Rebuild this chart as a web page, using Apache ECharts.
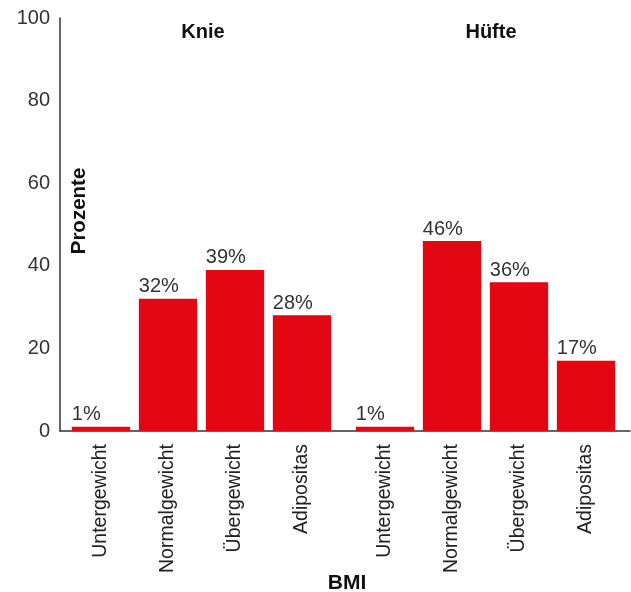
<!DOCTYPE html>
<html>
<head>
<meta charset="utf-8">
<script src="https://cdn.jsdelivr.net/npm/echarts@6/dist/echarts.min.js"></script>
<style>
  html, body { margin: 0; padding: 0; background: #fff; }
  #chart { width: 631px; height: 592px; }
</style>
</head>
<body>
<div id="chart"></div>
<script>
// BMI categories, shared by both joint groups
const categories = ['Untergewicht', 'Normalgewicht', 'Übergewicht', 'Adipositas'];
// Percent of patients per BMI class
const knieValues = [1, 32, 39, 28];
const hueftValues = [1, 46, 36, 17];
const groupTitles = ['Knie', 'Hüfte'];
const yTicks = [0, 20, 40, 60, 80, 100];

const FONT = '"Liberation Sans", Arial, sans-serif';
const RED = '#e30613';
const INK = '#333';

const plotTop = 18;
const plotHeight = 413;
const chartLeft = 60;
const groupLefts = [67.5, 351.5];
const groupWidth = 268;
const titleCenters = [198, 486];

const chart = echarts.init(document.getElementById('chart'), null, { renderer: 'canvas' });

const grids = [
  // frame grid carrying the visible value axis and baseline
  { left: chartLeft, top: plotTop, width: 631 - chartLeft - 1, height: plotHeight },
  { left: groupLefts[0], top: plotTop, width: groupWidth, height: plotHeight },
  { left: groupLefts[1], top: plotTop, width: groupWidth, height: plotHeight }
];

const xAxes = [
  {
    gridIndex: 0, type: 'category', data: [''],
    axisLine: { show: true, lineStyle: { color: INK, width: 1.5 } },
    axisTick: { show: false }, axisLabel: { show: false }
  }
];
const yAxes = [
  {
    gridIndex: 0, type: 'value', min: yTicks[0], max: yTicks[yTicks.length - 1], interval: 20,
    axisLine: { show: true, lineStyle: { color: INK, width: 1.5 } },
    axisTick: { show: false },
    splitLine: { show: false },
    axisLabel: { color: INK, fontFamily: FONT, fontSize: 20, margin: 10 }
  }
];

const series = [];
[knieValues, hueftValues].forEach((vals, i) => {
  const gi = i + 1;
  xAxes.push({
    gridIndex: gi, type: 'category', data: categories,
    axisLine: { show: false }, axisTick: { show: false },
    axisLabel: {
      rotate: 90, color: '#222', fontFamily: FONT, fontSize: 19.5, margin: 13, interval: 0
    }
  });
  yAxes.push({
    gridIndex: gi, type: 'value', min: 0, max: 100, interval: 20,
    show: false, splitLine: { show: false }
  });
  series.push({
    type: 'bar',
    xAxisIndex: gi, yAxisIndex: gi,
    data: vals,
    barCategoryGap: '13%',
    itemStyle: { color: RED },
    label: {
      show: true,
      position: [0, -2],
      align: 'left',
      verticalAlign: 'bottom',
      formatter: p => p.value + '%',
      color: INK, fontFamily: FONT, fontSize: 20
    },
    silent: true,
    animation: false
  });
});

const titles = groupTitles.map((t, i) => ({
  text: t,
  left: titleCenters[i],
  top: 17,
  textAlign: 'center',
  textStyle: { fontFamily: FONT, fontSize: 20, fontWeight: 'bold', color: '#111' }
}));
titles.push({
  text: 'BMI',
  left: 342,
  top: 568,
  textAlign: 'center',
  textStyle: { fontFamily: FONT, fontSize: 21, fontWeight: 'bold', color: '#111' }
});

chart.setOption({
  animation: false,
  title: titles,
  grid: grids,
  xAxis: xAxes,
  yAxis: yAxes,
  series: series,
  graphic: [{
    type: 'text',
    x: 79, y: 211,
    rotation: Math.PI / 2,
    style: {
      text: 'Prozente',
      fill: '#111',
      font: 'bold 20.5px ' + FONT,
      align: 'center',
      verticalAlign: 'middle'
    }
  }]
});
</script>
</body>
</html>
